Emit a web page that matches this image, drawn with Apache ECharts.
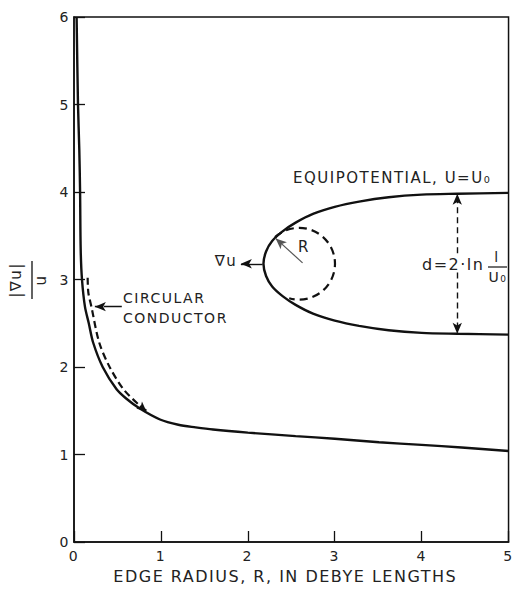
<!DOCTYPE html>
<html><head><meta charset="utf-8">
<script src="https://cdn.jsdelivr.net/npm/echarts@6/dist/echarts.min.js"></script>
<style>
html,body{margin:0;padding:0;background:#fff;}
#chart{width:516px;height:589px;}
#chart text{letter-spacing:1.5px;}
</style></head><body><div id="chart"></div>
<script>
// ---- data ----
const xTicks = [0, 1, 2, 3, 4, 5];
const yTicks = [0, 1, 2, 3, 4, 5, 6];

// |grad u| / u versus edge radius (solid curve)
const solidX = [0.03, 0.046, 0.061, 0.07, 0.077, 0.092, 0.126, 0.17, 0.22, 0.33, 0.49, 0.6, 0.757, 0.99, 1.2, 1.4, 1.6, 2.0, 2.55, 3.0, 3.51, 4.0, 4.46, 5.0];
const solidY = [6.0, 5.0, 4.48, 4.0, 3.34, 3.0, 2.69, 2.5, 2.28, 2.0, 1.745, 1.64, 1.525, 1.40, 1.34, 1.31, 1.285, 1.25, 1.21, 1.18, 1.14, 1.11, 1.08, 1.04];

// circular conductor (dashed curve)
const dashedX = [0.157, 0.165, 0.2, 0.29, 0.41, 0.57, 0.76, 0.83];
const dashedY = [3.02, 2.85, 2.69, 2.28, 2.0, 1.745, 1.555, 1.5];

// equipotential U = U0 (inset sketch)
const equiX = [5.0, 4.41, 4.0, 3.62, 3.28, 3.0, 2.75, 2.55, 2.4, 2.28, 2.21, 2.18, 2.21, 2.28, 2.4, 2.55, 2.75, 3.0, 3.28, 3.62, 4.0, 4.41, 5.0];
const equiY = [3.99, 3.98, 3.97, 3.94, 3.89, 3.83, 3.75, 3.65, 3.55, 3.44, 3.32, 3.18, 3.04, 2.92, 2.81, 2.71, 2.61, 2.53, 2.47, 2.42, 2.39, 2.38, 2.37];

// osculating circle: centre x, centre y, radius, arc start (deg), arc end (deg)
const circleArc = [2.59, 3.18, 0.413, -132, 106];

// arrows [from, to]
const dArrowTop = [[4.41, 3.30], [4.41, 3.98]];
const dArrowBottom = [[4.41, 3.08], [4.41, 2.38]];
const gradArrow = [[2.17, 3.18], [1.92, 3.18]];
const rArrow = [[2.63, 3.19], [2.32, 3.47]];
const condArrow = [[0.55, 2.69], [0.24, 2.69]];
const dashEndArrow = [[0.76, 1.555], [0.83, 1.50]];

const zip = (xs, ys) => xs.map((x, i) => [x, ys[i]]);
const INK = '#111';
const TXT = '#222';
const F = (s) => s + 'px "DejaVu Sans"';

function arrowLine(pts, opts) {
  opts = opts || {};
  return [
    { coord: pts[0], symbol: 'none' },
    { coord: pts[1], symbol: 'arrow', symbolSize: opts.size || [7, 11],
      lineStyle: { color: opts.color || INK, width: opts.width || 1.4, type: opts.type || 'solid' } }
  ];
}

const chart = echarts.init(document.getElementById('chart'), null, { renderer: 'svg' });
chart.setOption({
  animation: false,
  backgroundColor: '#fff',
  grid: { left: 74, right: 6, top: 17, bottom: 46, show: true, borderColor: INK, borderWidth: 1.5, backgroundColor: 'transparent' },
  xAxis: {
    type: 'value', min: xTicks[0], max: xTicks[xTicks.length - 1], interval: 1,
    axisLine: { show: true, lineStyle: { color: INK, width: 1.5 } },
    axisTick: { show: true, inside: true, length: 11, lineStyle: { color: INK, width: 1.3 } },
    axisLabel: { color: TXT, fontFamily: 'DejaVu Sans', fontSize: 14, margin: 7 },
    splitLine: { show: false },
    name: 'EDGE RADIUS, R, IN DEBYE LENGTHS',
    nameLocation: 'middle', nameGap: 26,
    nameTextStyle: { color: TXT, fontFamily: 'DejaVu Sans', fontSize: 16, padding: [0, 12, 0, 0] }
  },
  yAxis: {
    type: 'value', min: yTicks[0], max: yTicks[yTicks.length - 1], interval: 1,
    axisLine: { show: true, lineStyle: { color: INK, width: 1.5 } },
    axisTick: { show: true, inside: true, length: 11, lineStyle: { color: INK, width: 1.3 } },
    axisLabel: { color: TXT, fontFamily: 'DejaVu Sans', fontSize: 14, margin: 4 },
    splitLine: { show: false }
  },
  series: [
    {
      type: 'line', name: 'solid', data: zip(solidX, solidY), smooth: 0.3,
      symbol: 'none', lineStyle: { color: INK, width: 2.4 }, silent: true,
      markLine: {
        silent: true, animation: false, label: { show: false }, emphasis: { disabled: true },
        data: [
          arrowLine(dArrowTop, { type: [6, 4], width: 1.4 }),
          arrowLine(dArrowBottom, { type: [6, 4], width: 1.4 }),
          arrowLine(gradArrow, { width: 1.4 }),
          arrowLine(rArrow, { color: '#555', width: 1.2 }),
          arrowLine(condArrow, { width: 1.3, type: [18, 4] }),
          arrowLine(dashEndArrow, { width: 2, size: [7, 9] })
        ]
      }
    },
    {
      type: 'line', name: 'dashed', data: zip(dashedX, dashedY), smooth: 0.3,
      symbol: 'none', lineStyle: { color: INK, width: 2.2, type: [7, 4] }, silent: true
    },
    {
      type: 'line', name: 'equipotential', data: zip(equiX, equiY), smooth: 0.3,
      symbol: 'none', lineStyle: { color: INK, width: 2.4 }, silent: true
    },
    {
      type: 'custom', name: 'circle', data: [circleArc], silent: true,
      encode: { x: 0, y: 1 },
      renderItem: function (params, api) {
        const c = api.coord([api.value(0), api.value(1)]);
        const r = api.size([api.value(2), 0])[0];
        return {
          type: 'arc',
          shape: { cx: c[0], cy: c[1], r: r, startAngle: api.value(3) * Math.PI / 180, endAngle: api.value(4) * Math.PI / 180, clockwise: true },
          style: { fill: 'none', stroke: INK, lineWidth: 2.2, lineDash: [8, 5] }
        };
      }
    }
  ],
  graphic: [
    { type: 'group', x: 28, y: 280, rotation: Math.PI / 2, children: [
      { type: 'text', x: 0, y: -12, style: { text: '|∇u|', font: F(15), fill: TXT, align: 'center', verticalAlign: 'middle' } },
      { type: 'line', shape: { x1: -19, y1: 4, x2: 19, y2: 4 }, style: { stroke: TXT, lineWidth: 1.4 } },
      { type: 'text', x: 0, y: 13, style: { text: 'u', font: F(15), fill: TXT, align: 'center', verticalAlign: 'middle' } }
    ]},
    { type: 'text', x: 293, y: 178, style: { text: 'EQUIPOTENTIAL, U=U₀', font: F(15), fill: TXT, align: 'left', verticalAlign: 'middle' } },
    { type: 'text', x: 123, y: 298, style: { text: 'CIRCULAR', font: F(14), fill: TXT, align: 'left', verticalAlign: 'middle' } },
    { type: 'text', x: 123, y: 318, style: { text: 'CONDUCTOR', font: F(14), fill: TXT, align: 'left', verticalAlign: 'middle' } },
    { type: 'text', x: 226, y: 261, style: { text: '∇u', font: F(15), fill: TXT, align: 'center', verticalAlign: 'middle' } },
    { type: 'text', x: 304, y: 247, style: { text: 'R', font: F(15), fill: TXT, align: 'center', verticalAlign: 'middle' } },
    { type: 'text', x: 422, y: 264, style: { text: 'd=2·ln', font: F(16), fill: TXT, align: 'left', verticalAlign: 'middle' } },
    { type: 'text', x: 497, y: 257, style: { text: 'l', font: F(14), fill: TXT, align: 'center', verticalAlign: 'middle' } },
    { type: 'line', shape: { x1: 488, y1: 267, x2: 507, y2: 267 }, style: { stroke: TXT, lineWidth: 1.3 } },
    { type: 'text', x: 498, y: 277, style: { text: 'U₀', font: F(14), fill: TXT, align: 'center', verticalAlign: 'middle' } }
  ]
});
</script></body></html>
